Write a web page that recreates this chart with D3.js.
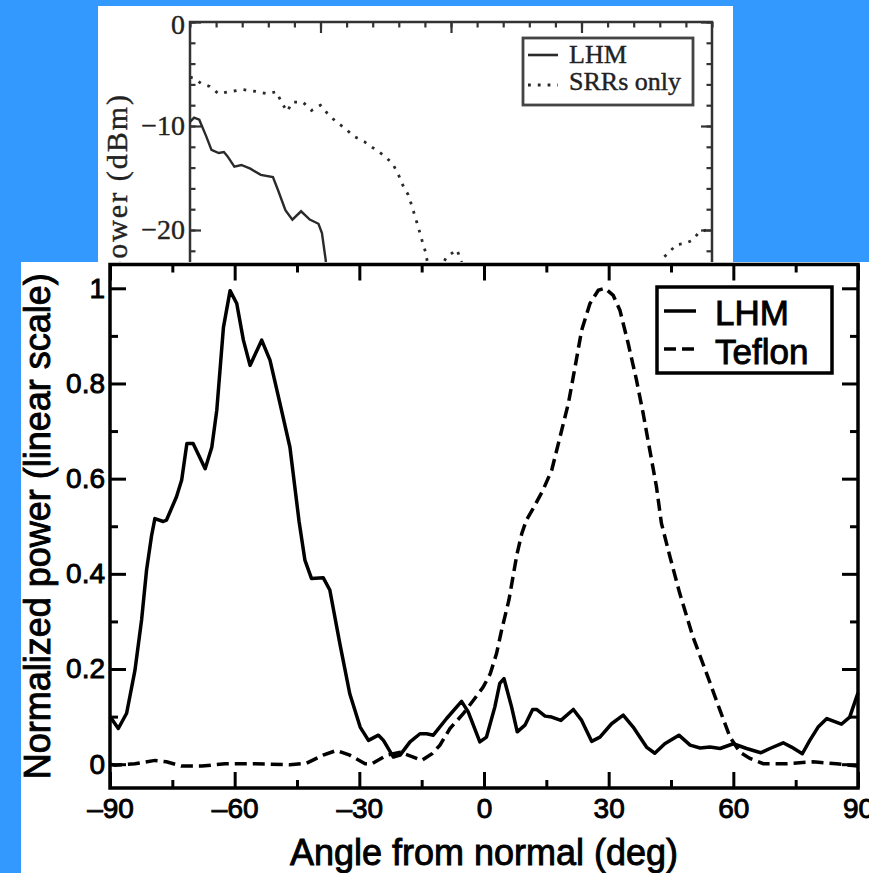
<!DOCTYPE html>
<html>
<head>
<meta charset="utf-8">
<script src="https://cdn.jsdelivr.net/npm/d3@7"></script>
<style>
    body { margin: 0; background: #3399ff; overflow: hidden; }
    svg { display: block; }
</style>
</head>
<body>
<div id="chart"></div>
<script>
// ---- background chart (received power, dBm) ----
var top_lhm = [[-90, -9.6], [-88.6, -9.2], [-86.8, -9.4], [-84.4, -11.0], [-82.6, -12.3], [-80.1, -12.6],
    [-78.3, -12.5], [-77.1, -12.9], [-74.7, -13.9], [-72.3, -13.75], [-69.2, -14.1], [-65.6, -14.7],
    [-61.4, -14.9], [-59.6, -16.2], [-57.1, -18.1], [-54.7, -19.0], [-51.7, -18.2], [-48.7, -19.0],
    [-45.7, -19.4], [-44.5, -20.3], [-43.2, -22.9], [-42.5, -26], [-41.5, -30]];
var top_srr = [[-90, -5.3], [-88.6, -5.4], [-86.2, -5.9], [-83.2, -6.2], [-80.1, -6.9], [-76.5, -6.7],
    [-71.7, -6.5], [-66.8, -6.7], [-63.2, -6.9], [-60.2, -6.7], [-58.3, -7.8], [-56.5, -8.6], [-54.7, -7.7],
    [-51.1, -7.7], [-48.1, -8.5], [-45.0, -8.0], [-42.6, -8.8], [-39.6, -9.6], [-36.6, -10.2], [-33.5, -11.0],
    [-29.9, -11.5], [-26.9, -12.1], [-23.3, -12.8], [-20.2, -13.6], [-18.4, -14.5], [-16.6, -15.7],
    [-14.8, -16.6], [-13.6, -17.6], [-12.4, -18.7], [-11.2, -19.8], [-10.0, -21.0], [-8.8, -22.1],
    [-8.2, -23.0], [-6.5, -25], [-4, -24], [-1.6, -22.6], [2.1, -21.9], [3.3, -22.9], [6, -24.5],
    [70, -24.5], [73.5, -22.6], [77.8, -21.4], [80.7, -21.3], [83.2, -21.0], [85.6, -20.2], [88.0, -20.0],
    [90, -19.8]];
var top_legend = ["LHM", "SRRs only"];
var top_y_ticks = [0, -10, -20, -30];

// ---- main chart (normalized power, linear scale) ----
var lhm = [[-90, 0.10], [-88, 0.075], [-86, 0.107], [-84, 0.197], [-82.4, 0.303], [-81.2, 0.408], [-80, 0.48],
    [-79.2, 0.516], [-77.2, 0.51], [-76.4, 0.513], [-74, 0.562], [-72.75, 0.597], [-71.5, 0.674], [-70, 0.674],
    [-67.1, 0.621], [-65.5, 0.666], [-64.3, 0.744], [-62.7, 0.918], [-61.1, 0.995], [-59.5, 0.968],
    [-57.9, 0.891], [-56.3, 0.838], [-53.5, 0.891], [-51.5, 0.849], [-49.1, 0.758], [-46.7, 0.666],
    [-44.5, 0.51], [-43.1, 0.429], [-41.5, 0.39], [-38.7, 0.392], [-37.1, 0.366], [-34.7, 0.254],
    [-32.3, 0.148], [-29.8, 0.078], [-27.8, 0.05], [-25.4, 0.061], [-24.2, 0.05], [-21.8, 0.015],
    [-20.2, 0.019], [-17.8, 0.047], [-15.4, 0.064], [-13.8, 0.064], [-12.2, 0.061], [-9, 0.096],
    [-5.4, 0.132], [-3.8, 0.11], [-1, 0.047], [0.6, 0.057], [2.6, 0.12], [3.8, 0.17], [4.8, 0.18],
    [6.65, 0.12], [8.0, 0.068], [9.85, 0.082], [11.7, 0.115], [12.65, 0.115], [14.7, 0.101], [16.3, 0.099],
    [18.5, 0.092], [21.5, 0.115], [23.5, 0.092], [25.9, 0.048], [27.9, 0.057], [30.7, 0.085], [33.5, 0.103],
    [35.9, 0.078], [39.1, 0.036], [41.1, 0.023], [43.5, 0.043], [46.9, 0.061], [49.6, 0.04], [52, 0.034],
    [54.4, 0.036], [56.8, 0.033], [60, 0.043], [63.2, 0.033], [66.6, 0.024], [68.8, 0.033], [72, 0.045],
    [74, 0.036], [76.6, 0.022], [78.4, 0.05], [80.4, 0.078], [82.5, 0.096], [86, 0.084], [88, 0.099],
    [90, 0.15]];
var teflon = [[-90, 0.0], [-88.8, -0.002], [-84, 0.001], [-79.2, 0.008], [-76.4, 0.005], [-72.8, -0.004],
    [-67.9, -0.004], [-62.3, 0.001], [-55.1, 0.001], [-46.7, -0.001], [-42.7, 0.002], [-38.7, 0.019],
    [-35.5, 0.029], [-32.3, 0.019], [-28.6, 0.001], [-27, 0.001], [-23.4, 0.019], [-20.2, 0.025],
    [-17, 0.015], [-15, 0.008], [-12.5, 0.022], [-10.6, 0.04], [-8.2, 0.075], [-5, 0.106], [-2.5, 0.135],
    [-0.2, 0.162], [1.5, 0.19], [3, 0.232], [4.25, 0.282], [6, 0.345], [7.9, 0.44], [9.1, 0.485],
    [10.2, 0.513], [11.8, 0.537], [14.2, 0.576], [16.3, 0.618], [18.3, 0.688], [20.3, 0.758], [21.9, 0.834],
    [23.5, 0.912], [25.5, 0.968], [27.5, 0.996], [29.1, 1.0], [31.1, 0.985], [32.7, 0.954], [34.7, 0.884],
    [36.7, 0.807], [38.3, 0.737], [39.9, 0.66], [41.5, 0.583], [42.7, 0.506], [44.75, 0.436], [47.1, 0.359],
    [50.3, 0.267], [53.6, 0.19], [56.8, 0.113], [59.2, 0.057], [61.6, 0.025], [64, 0.012], [67.2, 0.001],
    [72.8, 0.001], [79.2, 0.005], [84.8, 0.001], [90, -0.004]];
var legend_labels = ["LHM", "Teflon"];
var x_ticks = [-90, -60, -30, 0, 30, 60, 90];
var x_minor = [-75, -45, -15, 15, 45, 75];
var y_ticks = [0, 0.2, 0.4, 0.6, 0.8, 1];
var y_tick_labels = ["0", "0.2", "0.4", "0.6", "0.8", "1"];
var y_minor = [0.1, 0.3, 0.5, 0.7, 0.9];

var w = 869;
var h = 873;
var svg = d3.select("#chart").append("svg").attr("width", w).attr("height", h);
svg.append("rect").attr("width", w).attr("height", h).attr("fill", "#3399ff");

function strip(g) {
    g.select(".domain").remove();
}

function draw_top_chart() {
    var ink = "#333";
    var serif = "'Liberation Serif', 'Times New Roman', serif";
    var g = svg.append("g").attr("class", "top_chart");
    g.append("rect").attr("x", 98).attr("y", 6).attr("width", 635).attr("height", 270).attr("fill", "white");

    var xScale = d3.scaleLinear().domain([-90, 90]).range([190, 712]);
    var yScale = d3.scaleLinear().domain([-40, 0]).range([438, 22]);

    svg.append("defs").append("clipPath").attr("id", "top_clip")
        .append("rect").attr("x", 190).attr("y", 22).attr("width", 522).attr("height", 416);

    // ticks (inward) on all four sides
    var minorY = d3.range(-40, 1, 2);
    var minorX = d3.range(-90, 91, 9);
    var axes = [
        [d3.axisLeft(yScale).tickValues(minorY).tickSize(-5.5).tickFormat(""), 190, 0],
        [d3.axisRight(yScale).tickValues(minorY).tickSize(-5.5).tickFormat(""), 712, 0],
        [d3.axisRight(yScale).tickValues(top_y_ticks).tickSize(-11).tickFormat(""), 712, 0],
        [d3.axisTop(xScale).tickValues(minorX).tickSize(-5.5).tickFormat(""), 0, 22],
        [d3.axisTop(xScale).tickValues([-45, 0, 45]).tickSize(-11).tickFormat(""), 0, 22]
    ];
    axes.forEach(function (a) {
        g.append("g").attr("transform", "translate(" + a[1] + "," + a[2] + ")").call(a[0]).call(strip)
            .selectAll("line").attr("stroke", ink).attr("stroke-width", 2.2);
    });

    var yAxis = d3.axisLeft(yScale).tickValues(top_y_ticks).tickSize(-11).tickPadding(5)
        .tickFormat(function (d) { return d === 0 ? "0" : "\u2212" + Math.abs(d); });
    var ya = g.append("g").attr("transform", "translate(190,0)").call(yAxis).call(strip);
    ya.selectAll("line").attr("stroke", ink).attr("stroke-width", 2.2);
    ya.selectAll("text").attr("font-family", serif)
        .attr("font-size", "28px").attr("fill", "#222").attr("stroke", "#222").attr("stroke-width", 0.4)
        .attr("dy", function (d) { return d === 0 ? "0.4em" : "0.32em"; });

    // frame
    g.append("rect").attr("x", 190).attr("y", 22).attr("width", 522).attr("height", 416)
        .attr("fill", "none").attr("stroke", ink).attr("stroke-width", 2.5);

    var line = d3.line()
        .x(function (d) { return xScale(d[0]); })
        .y(function (d) { return yScale(d[1]); });

    var curves = g.append("g").attr("clip-path", "url(#top_clip)");
    curves.append("path").datum(top_lhm).attr("d", line)
        .attr("fill", "none").attr("stroke", "#2a2a2a").attr("stroke-width", 2.4);
    curves.append("path").datum(top_srr).attr("d", line)
        .attr("fill", "none").attr("stroke", "#2a2a2a").attr("stroke-width", 2.8)
        .attr("stroke-dasharray", "2.8,7");

    // legend
    g.append("rect").attr("x", 523).attr("y", 38).attr("width", 170).attr("height", 67)
        .attr("fill", "white").attr("stroke", "#444").attr("stroke-width", 2.8);
    var leg = g.selectAll(".top_legend").data(top_legend).enter().append("g");
    leg.append("line")
        .attr("x1", 528).attr("x2", 558)
        .attr("y1", function (d, i) { return 55 + i * 30; })
        .attr("y2", function (d, i) { return 55 + i * 30; })
        .attr("stroke", "#2a2a2a").attr("stroke-width", function (d, i) { return i ? 2.8 : 2.6; })
        .attr("stroke-dasharray", function (d, i) { return i ? "2.8,7" : null; });
    leg.append("text")
        .attr("x", 569)
        .attr("y", function (d, i) { return 63 + i * 27; })
        .attr("font-family", serif)
        .attr("font-size", "26px").attr("fill", "#222").attr("stroke", "#222").attr("stroke-width", 0.4)
        .text(function (d) { return d; });

    // y title (mostly hidden behind the main panel)
    g.append("text")
        .attr("transform", "translate(127,93) rotate(-90)")
        .attr("text-anchor", "end")
        .attr("font-family", serif)
        .attr("font-size", "30px").attr("letter-spacing", "2px").attr("fill", "#222")
        .attr("stroke", "#222").attr("stroke-width", 0.4)
        .text("power (dBm)");
}

function draw_main_chart() {
    var g = svg.append("g").attr("class", "main_chart");
    g.append("rect").attr("x", 21).attr("y", 262).attr("width", 848).attr("height", 611).attr("fill", "white");

    var left = 110, right = 858, top = 264.5, bottom = 788;
    var xScale = d3.scaleLinear().domain([-90, 90]).range([left, right]);
    var yScale = d3.scaleLinear().domain([-0.05, 1.05]).range([bottom, top]);
    var font = "'Liberation Sans', Arial, Helvetica, sans-serif";
    var thick = 0.9;

    var ticks = [
        [d3.axisBottom(xScale).tickValues(x_minor).tickSize(-8).tickFormat(""), 0, bottom],
        [d3.axisTop(xScale).tickValues(x_minor).tickSize(-8).tickFormat(""), 0, top],
        [d3.axisTop(xScale).tickValues(x_ticks).tickSize(-16).tickFormat(""), 0, top],
        [d3.axisLeft(yScale).tickValues(y_minor).tickSize(-8).tickFormat(""), left, 0],
        [d3.axisRight(yScale).tickValues(y_minor).tickSize(-8).tickFormat(""), right, 0],
        [d3.axisRight(yScale).tickValues(y_ticks).tickSize(-16).tickFormat(""), right, 0]
    ];
    ticks.forEach(function (a) {
        g.append("g").attr("transform", "translate(" + a[1] + "," + a[2] + ")").call(a[0]).call(strip)
            .selectAll("line").attr("stroke", "black").attr("stroke-width", 3);
    });

    var xAxis = d3.axisBottom(xScale).tickValues(x_ticks).tickSize(-16).tickPadding(10)
        .tickFormat(function (d) { return d < 0 ? "\u2013" + Math.abs(d) : "" + d; });
    var xa = g.append("g").attr("transform", "translate(0," + bottom + ")").call(xAxis).call(strip);
    xa.selectAll("line").attr("stroke", "black").attr("stroke-width", 3);
    xa.selectAll("text").attr("font-family", font).attr("font-size", "28px").attr("fill", "black")
        .attr("stroke", "black").attr("stroke-width", thick);

    var yAxis = d3.axisLeft(yScale).tickValues(y_ticks).tickSize(-16).tickPadding(5)
        .tickFormat(function (d, i) { return y_tick_labels[i]; });
    var ya = g.append("g").attr("transform", "translate(" + left + ",0)").call(yAxis).call(strip);
    ya.selectAll("line").attr("stroke", "black").attr("stroke-width", 3);
    ya.selectAll("text").attr("font-family", font).attr("font-size", "28px").attr("fill", "black")
        .attr("stroke", "black").attr("stroke-width", thick);

    g.append("rect").attr("x", left).attr("y", top).attr("width", right - left).attr("height", bottom - top)
        .attr("fill", "none").attr("stroke", "black").attr("stroke-width", 3.5);

    var line = d3.line()
        .x(function (d) { return xScale(d[0]); })
        .y(function (d) { return yScale(d[1]); });

    g.append("path").datum(teflon).attr("d", line)
        .attr("fill", "none").attr("stroke", "black").attr("stroke-width", 3.5)
        .attr("stroke-dasharray", "12,6");
    g.append("path").datum(lhm).attr("d", line)
        .attr("fill", "none").attr("stroke", "black").attr("stroke-width", 3.5)
        .attr("stroke-linejoin", "round");

    // legend
    g.append("rect").attr("x", 657).attr("y", 287).attr("width", 175).attr("height", 86)
        .attr("fill", "white").attr("stroke", "black").attr("stroke-width", 3.5);
    var leg = g.selectAll(".legend").data(legend_labels).enter().append("g");
    leg.append("line")
        .attr("x1", 664).attr("x2", 696)
        .attr("y1", function (d, i) { return 311 + i * 38; })
        .attr("y2", function (d, i) { return 311 + i * 38; })
        .attr("stroke", "black").attr("stroke-width", 3.5)
        .attr("stroke-dasharray", function (d, i) { return i ? "12,6" : null; });
    leg.append("text")
        .attr("x", 715)
        .attr("y", function (d, i) { return 325 + i * 39; })
        .attr("font-family", font).attr("font-size", "35px").attr("fill", "black")
        .attr("stroke", "black").attr("stroke-width", thick)
        .text(function (d) { return d; });

    // axis titles
    g.append("text")
        .attr("x", (left + right) / 2).attr("y", 865)
        .attr("text-anchor", "middle")
        .attr("font-family", font).attr("font-size", "36px").attr("fill", "black")
        .attr("stroke", "black").attr("stroke-width", thick)
        .text("Angle from normal (deg)");
    g.append("text")
        .attr("transform", "translate(50," + (top + bottom) / 2 + ") rotate(-90)")
        .attr("text-anchor", "middle")
        .attr("font-family", font).attr("font-size", "36px").attr("fill", "black")
        .attr("stroke", "black").attr("stroke-width", thick)
        .text("Normalized power (linear scale)");
}

draw_top_chart();
draw_main_chart();
</script>
</body>
</html>
